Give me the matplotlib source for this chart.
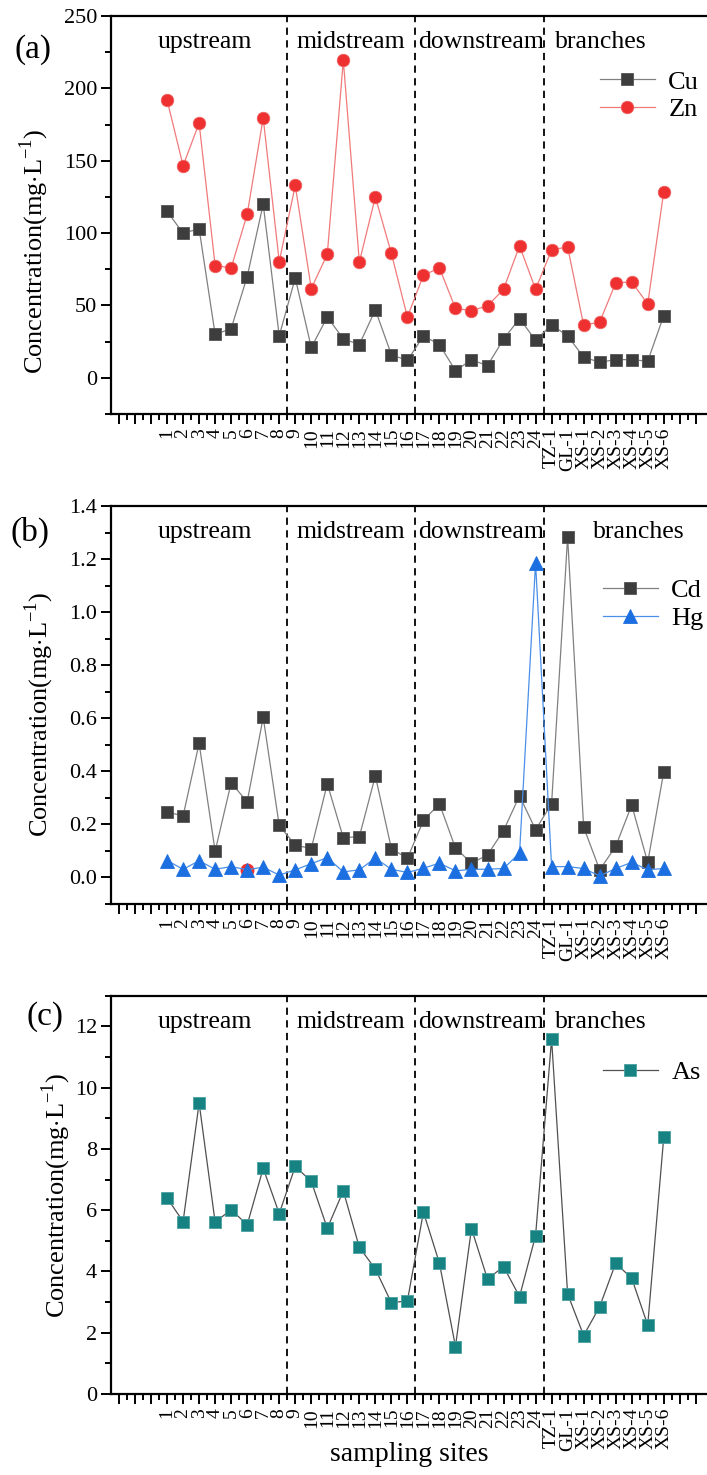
import matplotlib
matplotlib.use("Agg")
import matplotlib.pyplot as plt
import numpy as np
from matplotlib.ticker import FixedLocator, MultipleLocator

plt.rcParams["font.family"] = ["Liberation Serif", "DejaVu Serif"]
plt.rcParams["mathtext.fontset"] = "custom"
plt.rcParams["mathtext.rm"] = "Liberation Serif"

# 採样点
sites = [str(i) for i in range(1, 25)] + ["TZ-1", "GL-1", "XS-1", "XS-2", "XS-3", "XS-4", "XS-5", "XS-6"]

cu = [115, 100, 103, 30, 34, 70, 120, 29, 69, 21, 42, 27, 23, 47, 16, 12,
      29, 23, 5, 12.4, 8.5, 26.7, 41, 26, 36.6, 29, 14.3, 10.8, 12.6, 12.6, 11.5, 43]
zn = [192, 146.6, 176, 77.6, 76, 113, 179.6, 80.3, 133, 61.7, 85.4, 219.4, 80, 125, 86, 42,
      70.9, 76, 48, 46.5, 49.7, 61.2, 91.2, 61.2, 88.4, 90.5, 36.4, 38.5, 65.6, 66.3, 51, 128.7]
cd = [0.247, 0.232, 0.506, 0.099, 0.357, 0.285, 0.604, 0.196, 0.122, 0.109, 0.353, 0.150,
      0.154, 0.383, 0.109, 0.072, 0.215, 0.278, 0.111, 0.054, 0.085, 0.177, 0.308, 0.180,
      0.278, 1.284, 0.190, 0.029, 0.117, 0.273, 0.057, 0.398]
hg = [0.064, 0.031, 0.063, 0.031, 0.041, 0.029, 0.039, 0.009, 0.029, 0.052, 0.075, 0.021,
      0.029, 0.073, 0.031, 0.019, 0.035, 0.054, 0.025, 0.031, 0.031, 0.034, 0.092, 1.186,
      0.041, 0.041, 0.034, 0.006, 0.034, 0.057, 0.029, 0.034]
as_ = [6.40, 5.63, 9.50, 5.61, 6.02, 5.52, 7.37, 5.89, 7.43, 6.94, 5.41, 6.63, 4.79, 4.08,
       2.98, 3.04, 5.94, 4.27, 1.55, 5.40, 3.75, 4.16, 3.18, 5.17, 11.59, 3.27, 1.91, 2.85,
       4.27, 3.78, 2.25, 8.38]
# (b)图中6号点下的红色圆点
stray_site = 6
stray_val = 0.028

regions = ["upstream", "midstream", "downstream", "branches"]
region_x = [0.38, 9.1, 16.66, 25.2]
bounds = [8.5, 16.5, 24.5]

x = np.arange(1, len(sites) + 1)

fig = plt.figure(figsize=(7.07, 14.75), dpi=100)
ax_a = fig.add_axes([0.157, 0.7193, 0.843, 0.2698])
ax_b = fig.add_axes([0.157, 0.3871, 0.843, 0.2698])
ax_c = fig.add_axes([0.157, 0.0549, 0.843, 0.2700])


def style_axis(ax, ylim, major, minor, ylab_xy, branch_x):
    ax.set_xlim(-2.5, 34.7)
    ax.set_ylim(*ylim)
    ax.spines["right"].set_visible(False)
    for s in ["left", "bottom", "top"]:
        ax.spines[s].set_linewidth(1.6)
    ticks = np.arange(-2, 35)
    ax.xaxis.set_major_locator(FixedLocator(ticks))
    ax.xaxis.set_minor_locator(FixedLocator(ticks[:-1] + 0.5))
    labels = [sites[t - 1] if 1 <= t <= len(sites) else "" for t in ticks]
    ax.set_xticklabels(labels, rotation=90, fontsize=14)
    ax.yaxis.set_major_locator(MultipleLocator(major))
    ax.yaxis.set_minor_locator(MultipleLocator(minor))
    ax.tick_params(axis="both", which="major", direction="out", length=7, width=1.4, labelsize=16, pad=3)
    ax.tick_params(axis="both", which="minor", direction="out", length=4, width=1.4)
    ax.tick_params(axis="x", labelsize=14, pad=3)
    ax.set_ylabel(r"Concentration(mg$\cdot$L$^{\mathrm{-1}}$)", fontsize=19)
    ax.yaxis.label.set_va("center")
    ax.yaxis.set_label_coords(*ylab_xy)
    for b in bounds:
        ax.axvline(b, color="black", linestyle=(0, (4, 3)), linewidth=1.3, zorder=1)
    xs = list(region_x)
    xs[3] = branch_x
    for name, rx in zip(regions, xs):
        ax.text(rx, 0.935, name, transform=ax.get_xaxis_transform(), fontsize=18.5,
                ha="left", va="center")


# (a)
ax_a.plot(x, cu, color="#808080", lw=0.9, marker="s", ms=8, mfc="#3d3d3d", mec="#555555",
          mew=0.6, label="Cu", zorder=3)
ax_a.plot(x, zn, color="#f07a7a", lw=0.9, marker="o", ms=9, mfc="#ee3030", mec="#f06060",
          mew=0.6, label="Zn", zorder=3)
style_axis(ax_a, (-25, 250), 50, 25, (-0.129, 0.41), 25.2)
ax_a.legend(loc="upper left", bbox_to_anchor=(0.82, 0.864), frameon=False, fontsize=19,
            handlelength=2.1, handletextpad=0.5, labelspacing=0.15, borderpad=0, borderaxespad=0)

# (b)
ax_b.plot([stray_site], [stray_val], linestyle="none", marker="o", ms=9, mfc="#ee3030",
          mec="#ee3030", zorder=2)
ax_b.plot(x, cd, color="#808080", lw=0.9, marker="s", ms=8, mfc="#3d3d3d", mec="#555555",
          mew=0.6, label="Cd", zorder=3)
ax_b.plot(x, hg, color="#4a8fe8", lw=0.9, marker="^", ms=10, mfc="#1c6fe0", mec="#1c6fe0",
          mew=0.6, label="Hg", zorder=4)
style_axis(ax_b, (-0.1, 1.4), 0.2, 0.1, (-0.12, 0.477), 27.6)
ax_b.yaxis.set_major_formatter(matplotlib.ticker.FormatStrFormatter("%.1f"))
handles, labs = ax_b.get_legend_handles_labels()
ax_b.legend(handles, labs, loc="upper left", bbox_to_anchor=(0.825, 0.817), frameon=False,
            fontsize=19, handlelength=2.1, handletextpad=0.5, labelspacing=0.15,
            borderpad=0, borderaxespad=0)

# (c)
ax_c.plot(x, as_, color="#505050", lw=0.9, marker="s", ms=8.5, mfc="#168282", mec="#4aa0a0",
          mew=0.6, label="As", zorder=3)
style_axis(ax_c, (0, 13), 2, 1, (-0.092, 0.5), 25.2)
ax_c.legend(loc="upper left", bbox_to_anchor=(0.825, 0.837), frameon=False, fontsize=19,
            handlelength=2.1, handletextpad=0.5, labelspacing=0.15, borderpad=0, borderaxespad=0)
ax_c.set_xlabel("sampling sites", fontsize=20)
ax_c.xaxis.label.set_va("center")
ax_c.xaxis.set_label_coords(0.5, -0.153)

fig.text(33 / 707, 1 - 50 / 1475, "(a)", fontsize=24, ha="center", va="center")
fig.text(30 / 707, 1 - 532 / 1475, "(b)", fontsize=24, ha="center", va="center")
fig.text(45 / 707, 1 - 1017 / 1475, "(c)", fontsize=24, ha="center", va="center")

fig.savefig("out.png", dpi=100)
